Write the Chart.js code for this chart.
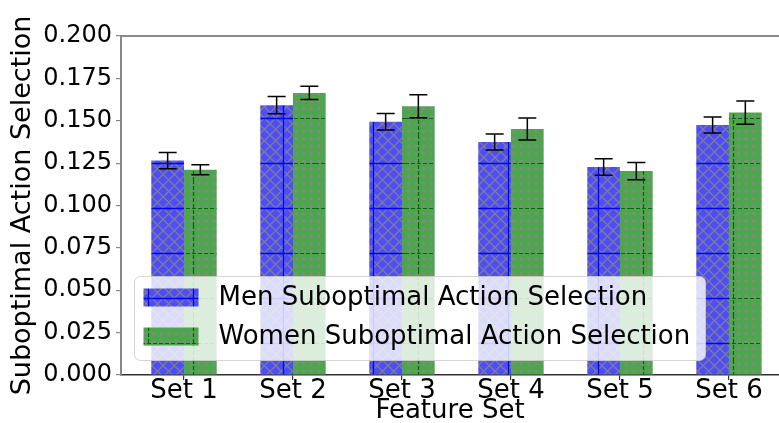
<!DOCTYPE html>
<html>
<head>
<meta charset="utf-8">
<script src="https://cdn.jsdelivr.net/npm/chart.js@4.4.1/dist/chart.umd.min.js"></script>
<style>
  html, body { margin: 0; padding: 0; background: #fff; overflow: hidden; }
  canvas { display: block; }
</style>
</head>
<body>
<canvas id="barChart" width="779" height="423"></canvas>
<script>
const featureSets = ['Set 1', 'Set 2', 'Set 3', 'Set 4', 'Set 5', 'Set 6'];
const menValues = [0.1265, 0.1592, 0.1494, 0.1375, 0.1227, 0.1475];
const menErrors = [0.0048, 0.0051, 0.0049, 0.0047, 0.0049, 0.0047];
const womenValues = [0.1211, 0.1664, 0.1585, 0.1451, 0.1203, 0.1548];
const womenErrors = [0.0030, 0.0039, 0.0068, 0.0065, 0.0051, 0.0068];
const yMin = 0;
const yMax = 0.2;
const yStep = 0.025;

const FONT = "'DejaVu Sans', sans-serif";

// hatch fills: 45px tile, anchored to canvas origin
const makeMenPattern = () => {
  const c = document.createElement('canvas');
  c.width = 45; c.height = 45;
  const g = c.getContext('2d');
  g.fillStyle = 'rgb(77,77,255)';
  g.fillRect(0, 0, 45, 45);
  g.strokeStyle = 'rgb(125,125,140)';
  g.lineWidth = 1.3;
  const p = 11.25;
  for (let k = -8; k <= 8; k++) {
    g.beginPath();
    g.moveTo(k * p, 0); g.lineTo(k * p + 45, 45);
    g.moveTo(k * p, 45); g.lineTo(k * p + 45, 0);
    g.stroke();
  }
  g.strokeStyle = 'rgb(0,0,255)';
  g.lineWidth = 1.3;
  g.beginPath();
  g.moveTo(0, 28.5); g.lineTo(45, 28.5);
  g.moveTo(13.5, 0); g.lineTo(13.5, 45);
  g.stroke();
  return g.createPattern(c, 'repeat');
};

const makeWomenPattern = () => {
  const c = document.createElement('canvas');
  c.width = 45; c.height = 45;
  const g = c.getContext('2d');
  g.fillStyle = 'rgb(77,166,77)';
  g.fillRect(0, 0, 45, 45);
  g.fillStyle = 'rgb(128,140,128)';
  const p = 7.5;
  for (let i = 0; i < 6; i++) {
    for (let j = 0; j < 6; j++) {
      g.beginPath();
      g.arc(i * p + 3.75, j * p + 3.75, 1.8, 0, Math.PI * 2);
      g.fill();
    }
  }
  g.strokeStyle = 'rgb(0,110,0)';
  g.lineWidth = 1.2;
  g.setLineDash([4, 2]);
  g.beginPath();
  g.moveTo(0, 28.5); g.lineTo(45, 28.5);
  g.moveTo(13.5, 0); g.lineTo(13.5, 45);
  g.stroke();
  return g.createPattern(c, 'repeat');
};

const menFill = makeMenPattern();
const womenFill = makeWomenPattern();

const errorBars = {
  id: 'errorBars',
  afterDatasetsDraw(chart) {
    const { ctx, scales: { y } } = chart;
    ctx.save();
    ctx.strokeStyle = '#000';
    ctx.lineWidth = 1.5;
    chart.data.datasets.forEach((ds, di) => {
      const meta = chart.getDatasetMeta(di);
      meta.data.forEach((bar, i) => {
        const v = ds.data[i].y;
        const e = ds.errors[i];
        const top = y.getPixelForValue(v + e);
        const bot = y.getPixelForValue(v - e);
        ctx.beginPath();
        ctx.moveTo(bar.x, top); ctx.lineTo(bar.x, bot);
        ctx.moveTo(bar.x - 9, top); ctx.lineTo(bar.x + 9, top);
        ctx.moveTo(bar.x - 9, bot); ctx.lineTo(bar.x + 9, bot);
        ctx.stroke();
      });
    });
    ctx.restore();
  }
};

const frameAndLegend = {
  id: 'frameAndLegend',
  afterDraw(chart) {
    const { ctx, chartArea } = chart;
    ctx.save();
    // top spine
    ctx.strokeStyle = '#888';
    ctx.lineWidth = 2;
    ctx.beginPath();
    ctx.moveTo(chartArea.left, chartArea.top);
    ctx.lineTo(chartArea.right, chartArea.top);
    ctx.stroke();

    // legend box, lower left
    const bx = chartArea.left + 13.5, by = chartArea.top + 240.5, bw = 571, bh = 84, r = 6;
    ctx.beginPath();
    ctx.roundRect(bx, by, bw, bh, r);
    ctx.fillStyle = 'rgba(255,255,255,0.8)';
    ctx.fill();
    ctx.strokeStyle = 'rgba(204,204,204,0.8)';
    ctx.lineWidth = 1;
    ctx.stroke();

    ctx.font = '26px ' + FONT;
    ctx.textBaseline = 'middle';
    chart.data.datasets.forEach((ds, i) => {
      const cy = by + 21 + i * 39;
      ctx.fillStyle = ds.backgroundColor;
      ctx.fillRect(bx + 9, cy - 9, 55, 18);
      ctx.fillStyle = '#000';
      ctx.fillText(ds.label, bx + 84, cy + 1);
    });
    ctx.restore();
  }
};

new Chart(document.getElementById('barChart'), {
  type: 'bar',
  data: {
    datasets: [
      {
        label: 'Men Suboptimal Action Selection',
        data: menValues.map((v, i) => ({ x: i, y: v })),
        errors: menErrors,
        backgroundColor: menFill,
        borderWidth: 0,
      },
      {
        label: 'Women Suboptimal Action Selection',
        data: womenValues.map((v, i) => ({ x: i, y: v })),
        errors: womenErrors,
        backgroundColor: womenFill,
        borderWidth: 0,
      },
    ],
  },
  options: {
    responsive: false,
    animation: false,
    devicePixelRatio: 1,
    categoryPercentage: 0.6,
    barPercentage: 1.0,
    layout: { padding: { top: 36, right: 0, left: 0, bottom: 0 } },
    plugins: {
      legend: { display: false },
      tooltip: { enabled: false },
    },
    scales: {
      x: {
        type: 'linear',
        offset: false,
        min: -0.578,
        max: 5.459,
        afterBuildTicks: (axis) => {
          axis.ticks = featureSets.map((_, i) => ({ value: i }));
        },
        afterFit: (scale) => { scale.height = 48; },
        ticks: {
          autoSkip: false,
          maxRotation: 0,
          padding: -4,
          color: '#000',
          font: { family: FONT, size: 26 },
          callback: (value) => featureSets[value],
        },
        grid: { offset: false, drawOnChartArea: false, tickLength: 5, color: '#333', lineWidth: 1.2 },
        border: { color: '#333', width: 1.5 },
        title: {
          display: true,
          text: 'Feature Set',
          color: '#000',
          font: { family: FONT, size: 26 },
          padding: { top: 0, bottom: -4 },
        },
      },
      y: {
        min: yMin,
        max: yMax,
        afterFit: (scale) => { scale.width = 121; },
        ticks: {
          stepSize: yStep,
          padding: 4,
          color: '#000',
          font: { family: FONT, size: 24 },
          callback: (value) => value.toFixed(3),
        },
        grid: { drawOnChartArea: false, tickLength: 5, color: '#888', lineWidth: 1.2 },
        border: { color: '#888', width: 2 },
        title: {
          display: true,
          text: 'Suboptimal Action Selection',
          color: '#000',
          font: { family: FONT, size: 27 },
          padding: { top: 7, bottom: 0 },
        },
      },
    },
  },
  plugins: [errorBars, frameAndLegend],
});
</script>
</body>
</html>
